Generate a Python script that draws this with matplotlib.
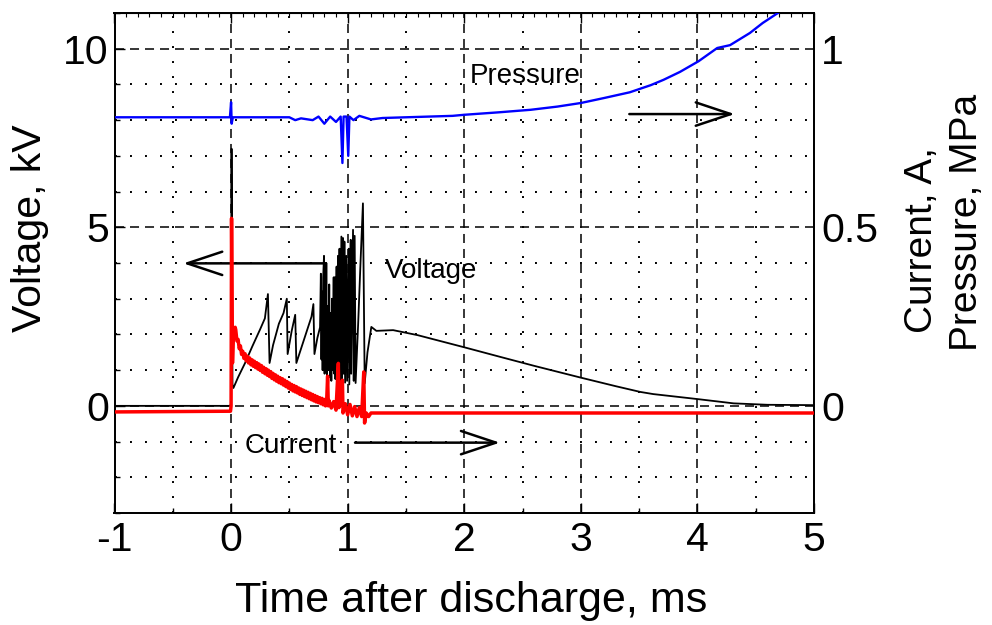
import matplotlib
matplotlib.use("Agg")
import matplotlib.pyplot as plt
from matplotlib.ticker import MultipleLocator

plt.rcParams['font.family'] = ['Liberation Sans', 'DejaVu Sans']
plt.rcParams['lines.scale_dashes'] = False

# ---------------- data ----------------
# Voltage, kV (left axis)
volt_t = [-1.0, -0.01, 0.0, 0.004, 0.012, 0.02, 0.06, 0.12, 0.18, 0.25, 0.29, 0.316, 0.33,
          0.36, 0.41, 0.45, 0.478, 0.485, 0.52, 0.55, 0.56, 0.60, 0.645, 0.69, 0.706, 0.715,
          0.74, 0.763, 0.77, 0.775, 0.78, 0.785, 0.79, 0.797, 0.802, 0.808, 0.812, 0.817,
          0.822, 0.83, 0.835, 0.842, 0.848, 0.855, 0.86, 0.866, 0.872, 0.88, 0.885, 0.89,
          0.895, 0.905, 0.91, 0.917, 0.923, 0.93, 0.936, 0.946, 0.952, 0.96, 0.965, 0.972,
          0.978, 0.989, 0.995, 1.009, 1.014, 1.026, 1.03, 1.046, 1.052, 1.06, 1.068, 1.09,
          1.11, 1.131, 1.146, 1.17, 1.203, 1.246, 1.39, 1.6, 2.0, 2.31, 2.6, 3.0, 3.3, 3.51,
          3.62, 4.0, 4.31, 4.6, 5.0]
volt_kv = [0.0, 0.0, 0.05, 7.2, 0.6, 0.5, 0.8, 1.2, 1.65, 2.15, 2.45, 3.13, 1.2,
           1.7, 2.3, 2.6, 3.0, 1.45, 2.1, 2.55, 1.2, 1.6, 2.05, 2.5, 2.85, 1.45,
           1.9, 2.2, 3.7, 1.3, 3.2, 1.0, 3.6, 4.2, 0.9, 3.3, 1.1, 4.0,
           0.8, 2.8, 1.0, 3.4, 0.8, 2.6, 0.7, 3.0, 1.0, 3.6, 0.9, 3.6,
           0.75, 3.9, 0.8, 4.2, 0.85, 4.4, 0.7, 4.74, 0.75, 4.7, 0.9, 4.6,
           0.65, 4.2, 0.7, 4.4, 0.6, 4.65, 0.9, 4.93, 0.7, 4.76, 0.64, 2.3,
           4.0, 5.67, 0.63, 1.5, 2.21, 2.10, 2.12, 1.98, 1.64, 1.37, 1.12, 0.79, 0.55, 0.39,
           0.33, 0.19, 0.07, 0.03, 0.02]

# Current, A (right axis)
curr_t = [-1.0, -0.005, 0.0, 0.004, 0.012, 0.02, 0.035,
          0.04, 0.05, 0.06, 0.07, 0.08, 0.09, 0.10, 0.11, 0.12, 0.13, 0.14, 0.15, 0.16,
          0.17, 0.18, 0.19, 0.20, 0.21, 0.22, 0.23, 0.24, 0.25, 0.26, 0.27, 0.28, 0.29,
          0.30, 0.31, 0.32, 0.33, 0.34, 0.35, 0.36, 0.37, 0.38, 0.39, 0.40, 0.41, 0.42,
          0.43, 0.44, 0.45, 0.46, 0.47, 0.48, 0.49, 0.50, 0.51, 0.52, 0.53, 0.54, 0.55,
          0.56, 0.57, 0.58, 0.59, 0.60, 0.61, 0.62, 0.63, 0.64, 0.65, 0.66, 0.67, 0.68,
          0.69, 0.70, 0.71, 0.72, 0.73, 0.74, 0.75, 0.76, 0.77, 0.78, 0.79, 0.80, 0.81,
          0.82, 0.828, 0.834, 0.84, 0.86, 0.88, 0.90, 0.92, 0.925, 0.94, 0.955, 0.96,
          0.98, 1.00, 1.02, 1.04, 1.06, 1.08, 1.10, 1.12, 1.138, 1.145, 1.16, 1.18,
          1.2, 5.0]
curr_a = [-0.017, -0.015, 0.0, 0.525, 0.12, 0.2, 0.22,
          0.213, 0.182, 0.186, 0.160, 0.168, 0.144, 0.153, 0.133, 0.146, 0.126, 0.139, 0.120, 0.134,
          0.115, 0.129, 0.111, 0.125, 0.107, 0.121, 0.103, 0.117, 0.099, 0.113, 0.094, 0.108, 0.090,
          0.104, 0.086, 0.100, 0.082, 0.096, 0.077, 0.091, 0.073, 0.087, 0.069, 0.083, 0.065, 0.079,
          0.062, 0.076, 0.058, 0.072, 0.054, 0.068, 0.050, 0.064, 0.046, 0.060, 0.042, 0.057, 0.039,
          0.054, 0.036, 0.050, 0.032, 0.047, 0.029, 0.044, 0.026, 0.041, 0.023, 0.038, 0.020, 0.035,
          0.017, 0.032, 0.014, 0.029, 0.011, 0.026, 0.009, 0.023, 0.006, 0.021, 0.003, 0.018, 0.000,
          0.015, 0.083, 0.000, 0.015, -0.006, 0.012, -0.012, 0.119, -0.005, 0.010, 0.072, -0.020,
          0.006, -0.025, 0.004, -0.028, -0.002, -0.030, -0.005, -0.030, 0.095, -0.048, -0.020, -0.030,
          -0.020, -0.020]

# Pressure, MPa (right axis)
pres_t = [-1.0, -0.01, 0.0, 0.005, 0.015, 0.5, 0.55, 0.6, 0.7, 0.75, 0.8, 0.85, 0.9, 0.94,
          0.955, 0.965, 0.99, 1.005, 1.015, 1.05, 1.1, 1.2, 1.3, 1.5, 1.7, 1.9, 2.0, 2.3,
          2.57, 2.8, 3.0, 3.2, 3.42, 3.6, 3.71, 3.85, 4.01, 4.17, 4.28, 4.45, 4.56, 4.69, 4.75]
pres_mpa = [0.808, 0.808, 0.85, 0.79, 0.808, 0.808, 0.80, 0.805, 0.80, 0.81, 0.79, 0.81, 0.795, 0.81,
            0.68, 0.81, 0.81, 0.70, 0.81, 0.80, 0.812, 0.802, 0.806, 0.808, 0.81, 0.812, 0.815, 0.822,
            0.829, 0.838, 0.848, 0.862, 0.878, 0.898, 0.913, 0.935, 0.965, 1.002, 1.01, 1.044, 1.072, 1.10, 1.115]

x_ticks = [-1, 0, 1, 2, 3, 4, 5]
left_ticks = [0, 5, 10]
right_ticks = [0, 0.5, 1]
right_ticklabels = ['0', '0.5', '1']

# ---------------- figure ----------------
W, H = 992, 625
fig = plt.figure(figsize=(W / 100, H / 100), dpi=100)
L, R, T, B = 114.5, 814, 13, 513
ax = fig.add_axes([L / W, 1 - B / H, (R - L) / W, (B - T) / H])
ax2 = ax.twinx()

ax.set_xlim(-1, 5)
ax.set_ylim(-3, 11)
ax2.set_ylim(-0.3, 1.1)

# grid
dash = (0, (6.5, 4.3))
dot = (0, (1.4, 9.4))
ax.set_xticks(x_ticks)
ax.set_yticks(left_ticks)
ax.xaxis.set_minor_locator(MultipleLocator(0.5))
ax.yaxis.set_minor_locator(MultipleLocator(1))
ax.grid(which='major', color='black', linestyle=dash, linewidth=1.1)
ax.grid(which='minor', color='black', linestyle=dot, linewidth=1.4)
ax.set_axisbelow(True)

# traces
ax.plot(volt_t, volt_kv, color='black', lw=1.3, zorder=3)
ax2.plot(curr_t, curr_a, color='red', lw=2.5, zorder=3)
ax2.plot(pres_t, pres_mpa, color='blue', lw=1.7, zorder=3)

# ticks
ax.tick_params(axis='both', which='major', direction='in', length=7, width=1.0,
               labelsize=29.5, right=False, top=False)
ax.tick_params(axis='both', which='minor', direction='in', length=3.5, width=1.0,
               right=False, top=False)
ax.tick_params(axis='x', pad=6)
ax.tick_params(axis='y', pad=4)
ax.set_xticklabels([str(v) for v in x_ticks])
ax.set_yticklabels([str(v) for v in left_ticks])
ax2.set_yticks(right_ticks)
ax2.set_yticklabels(right_ticklabels)
ax2.tick_params(axis='y', direction='in', length=0, labelsize=29.5, pad=5)

secx = ax.secondary_xaxis('top')
secx.set_xticks(x_ticks)
secx.xaxis.set_minor_locator(MultipleLocator(0.1))
secx.tick_params(which='major', direction='in', length=7, width=1.0, labeltop=False)
secx.tick_params(which='minor', direction='in', length=3, width=0.8)

for a in (ax, ax2):
    for s in a.spines.values():
        s.set_linewidth(1.3)

# annotations
ax.text(2.05, 9.05, 'Pressure', fontsize=20, ha='left', va='baseline')
ax.text(1.32, 3.57, 'Voltage', fontsize=20, ha='left', va='baseline')
ax.text(0.119, -1.31, 'Current', fontsize=20, ha='left', va='baseline')
arrow = dict(arrowstyle='->,head_length=0.9,head_width=0.3', lw=1.8, color='black',
             shrinkA=0, shrinkB=0, mutation_scale=28)
ax.annotate('', xy=(-0.41, 3.99), xytext=(0.805, 3.99), arrowprops=arrow)
ax.annotate('', xy=(2.306, -1.03), xytext=(1.063, -1.03), arrowprops=arrow)
ax.annotate('', xy=(4.32, 8.17), xytext=(3.416, 8.17), arrowprops=arrow)

# axis labels
fig.text(471 / W, 1 - 612 / H, 'Time after discharge, ms', fontsize=31, ha='center', va='baseline')
fig.text(30 / W, 1 - 228 / H, 'Voltage, kV', fontsize=29.5, rotation=90, ha='center', va='center')
fig.text(922 / W, 1 - 240 / H, 'Current, A,', fontsize=28, rotation=90, ha='center', va='center')
fig.text(967 / W, 1 - 222 / H, 'Pressure, MPa', fontsize=28, rotation=90, ha='center', va='center')

fig.savefig('out.png', dpi=100)
